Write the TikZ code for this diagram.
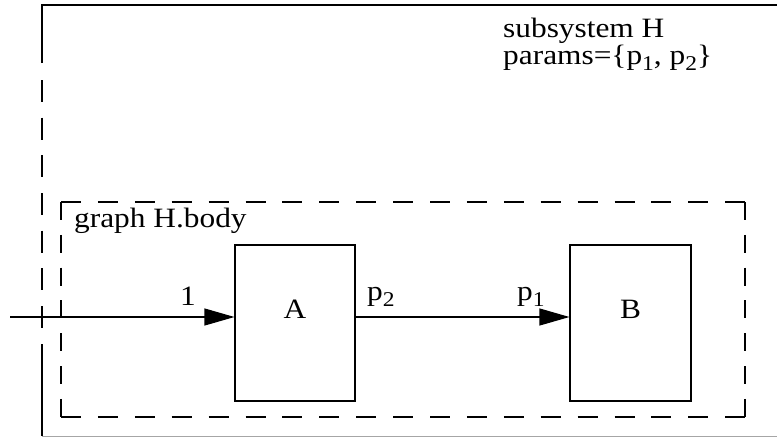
\documentclass[tikz,border=0pt]{standalone}
\usepackage{fontspec}
\usepackage{graphicx}
\setmainfont{Liberation Serif}
\usetikzlibrary{arrows.meta}
\newcommand{\wtext}[1]{\scalebox{1.12}[1]{#1}}
\newcommand{\lowsub}[1]{\raisebox{-6pt}{\fontsize{21}{21}\selectfont #1}}
\tikzset{
  blk/.style={draw, line width=1.1pt, minimum width=120pt, minimum height=156pt, inner sep=0pt},
  txt/.style={font=\fontsize{28}{32}\selectfont, inner sep=0pt, anchor=base west},
  ctxt/.style={font=\fontsize{28}{32}\selectfont, inner sep=0pt, anchor=base},
  flow/.style={line width=1.1pt, -{Triangle[length=30pt,width=17pt]}},
  frame/.style={line width=1.1pt},
}
\begin{document}
\begin{tikzpicture}[x=1pt,y=-1pt]
\useasboundingbox (0,0) rectangle (777,437);
% outer subsystem frame
\draw[frame] (42,63) -- (42,5) -- (777,5);
\draw[frame, dash pattern=on 22pt off 15.67pt] (42,80) -- (42,328);
\draw[frame] (42,344) -- (42,436);
\draw[gray!70, line width=1pt] (42,436) -- (777,436);
% inner graph frame
\draw[frame, dash pattern=on 20pt off 16.9pt] (61,202) -- (745,202);
\draw[frame, dash pattern=on 20pt off 16.9pt] (61,417) -- (745,417);
\draw[frame, dash pattern=on 18pt off 14.8pt] (61,202) -- (61,417);
\draw[frame, dash pattern=on 18pt off 14.8pt] (745,202) -- (745,417);
% texts
\node[txt] (t1) at (503,37) {\wtext{subsystem H}};
\node[txt] (t2) at (503,64) {\wtext{params=\{p\lowsub{1}, p\lowsub{2}\}}};
\node[txt] (t3) at (74,227) {\wtext{graph H.body}};
% blocks
\node[blk] (A) at (295,323) {};
\node[blk, minimum width=121pt] (B) at (630.5,323) {};
\node[ctxt] (la) at (295,318) {\wtext{A}};
\node[ctxt] (lb) at (630.5,318) {\wtext{B}};
% connectors
\coordinate (in) at (10,317);
\draw[flow] (in) -- (A.west |- in);
\draw[flow] (A.east |- in) -- (B.west |- in);
\node[ctxt] (l1) at (188,305) {\wtext{1}};
\node[txt] (lp2) at (367,300) {\wtext{p\lowsub{2}}};
\node[txt] (lp1) at (517,300) {\wtext{p\lowsub{1}}};
\end{tikzpicture}
\end{document}
